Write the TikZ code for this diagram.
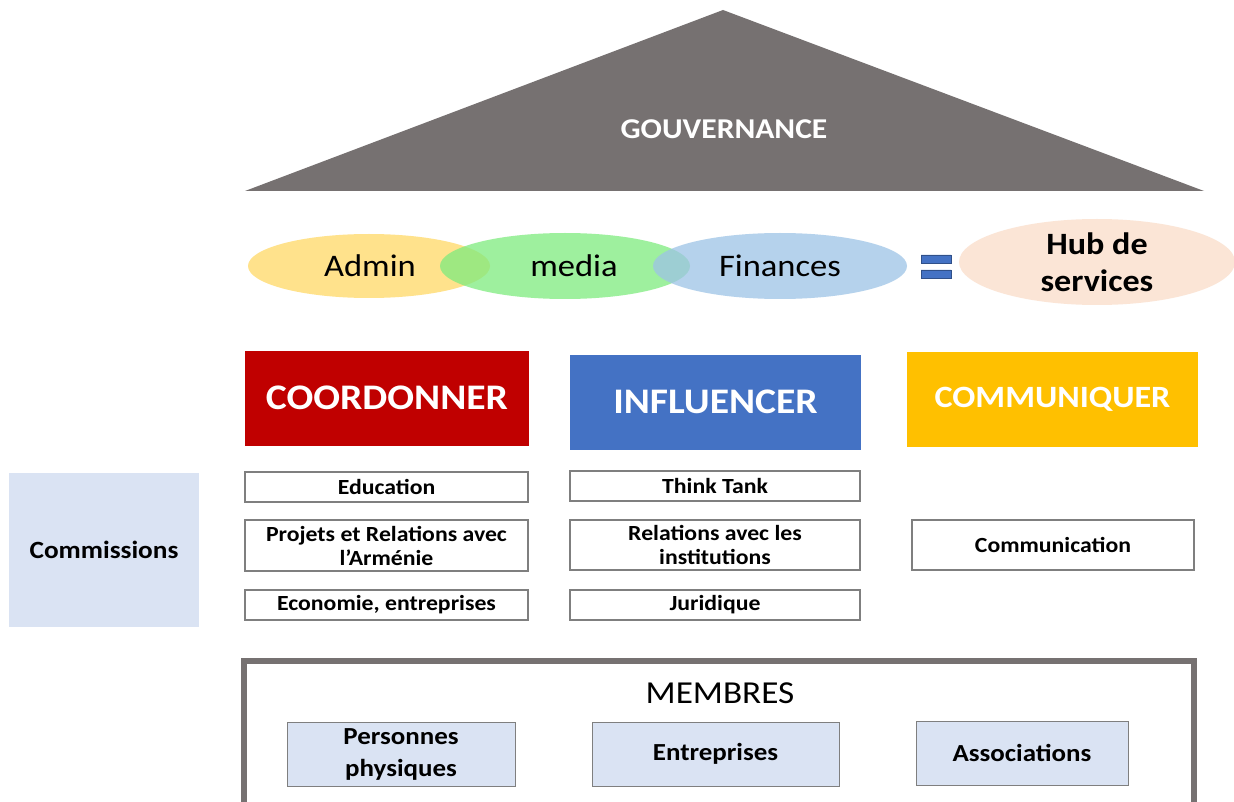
\documentclass[tikz,border=0pt]{standalone}
\usepackage{fontspec}
\setmainfont{Carlito}[FakeStretch=1.1]
\usetikzlibrary{positioning}
\usetikzlibrary{shapes.geometric}
\definecolor{roofgray}{HTML}{767171}
\definecolor{coordred}{HTML}{C00000}
\definecolor{inflblue}{HTML}{4472C4}
\definecolor{commyellow}{HTML}{FFC000}
\definecolor{paleblue}{HTML}{DAE3F3}
\definecolor{boxgray}{HTML}{7F7F7F}
\definecolor{adminyellow}{HTML}{FFD966}
\definecolor{mediagreen}{HTML}{7EEB7E}
\definecolor{finblue}{HTML}{9DC3E6}
\definecolor{hubpeach}{HTML}{FBE5D6}
\tikzset{
  pole/.style={fill=#1, text=white, font=\bfseries\fontsize{36}{40}\selectfont,
    minimum width=284pt, minimum height=95pt, inner sep=0pt},
  comm/.style={draw=boxgray, line width=1.5pt, fill=white, align=center,
    font=\bfseries\fontsize{21.6}{24}\selectfont, minimum height=30pt, inner sep=0pt},
  member/.style={draw=boxgray, line width=1pt, fill=paleblue, align=center,
    font=\bfseries\fontsize{24.5}{32}\selectfont, minimum height=64pt, inner sep=0pt},
  service/.style={ellipse, fill=#1, fill opacity=0.75, text opacity=1, inner sep=0pt},
  servicetext/.style={font=\fontsize{31.4}{34}\selectfont},
}
\begin{document}
\begin{tikzpicture}[x=1pt, y=-1pt]
\useasboundingbox (0,0) rectangle (1234,802);
\fill[white] (0,0) rectangle (1234,802);

%roof
\fill[roofgray] (723,10) -- (1204,191) -- (245,191) -- cycle;
\node[text=white, font=\bfseries\fontsize{28.7}{32}\selectfont] (gov) at (724,129) {GOUVERNANCE};

%services
\node[service=adminyellow, minimum width=242pt, minimum height=64pt] (admin) at (369,266) {};
\node[service=mediagreen, minimum width=250pt, minimum height=66pt] (media) at (565,266) {};
\node[service=finblue, minimum width=254pt, minimum height=66pt] (fin) at (780,266) {};
\node[servicetext] at (370,266) {Admin};
\node[servicetext] at (574,266) {media};
\node[servicetext] at (780,266) {Finances};
\fill[inflblue, draw=inflblue!70!black, line width=0.8pt] (921,255) rectangle (951,263) (921,270) rectangle (951,278);
\coordinate (equal) at (936,266);
\node[ellipse, fill=hubpeach, minimum width=276pt, minimum height=86pt, inner sep=0pt,
  align=center, font=\bfseries\fontsize{31}{37}\selectfont] (hub) at (1097,262) {Hub de\\services};

%poles
\node[pole=coordred] (coord) at (387,398) {COORDONNER};
\node[pole=inflblue, minimum width=291pt] (infl) at (715.5,402) {INFLUENCER};
\node[pole=commyellow, minimum width=291pt, font=\bfseries\fontsize{31}{36}\selectfont] (commu) at (1052.5,399) {COMMUNIQUER};

%commissions
\node[fill=paleblue, minimum width=190pt, minimum height=154pt,
  font=\bfseries\fontsize{24.8}{28}\selectfont] (commissions) at (104,550) {Commissions};
\node[comm, minimum width=283pt] (edu) at (386.5,487) {Education};
\node[comm, minimum width=283pt, minimum height=51pt] (armenie) at (386.5,545.5) {Projets et Relations avec\\l’Arménie};
\node[comm, minimum width=283pt] (eco) at (386.5,605) {Economie, entreprises};
\node[comm, minimum width=290pt] (think) at (715,486) {Think Tank};
\node[comm, minimum width=290pt, minimum height=50pt] (instit) at (715,545) {Relations avec les\\institutions};
\node[comm, minimum width=290pt] (jur) at (715,605) {Juridique};
\node[comm, minimum width=282pt, minimum height=50pt] (communic) at (1053,545) {Communication};

%membres
\draw[roofgray, line width=6pt] (244,806) -- (244,661) -- (1194,661) -- (1194,806);
\node[font=\fontsize{32}{36}\selectfont] (membres) at (720,693) {MEMBRES};
\node[member, minimum width=228pt] (phys) at (401,754) {Personnes\\physiques};
\node[member, minimum width=247pt] (entr) at (715.5,754) {Entreprises};
\node[member, minimum width=212pt] (asso) at (1022,753) {Associations};

\end{tikzpicture}
\end{document}
